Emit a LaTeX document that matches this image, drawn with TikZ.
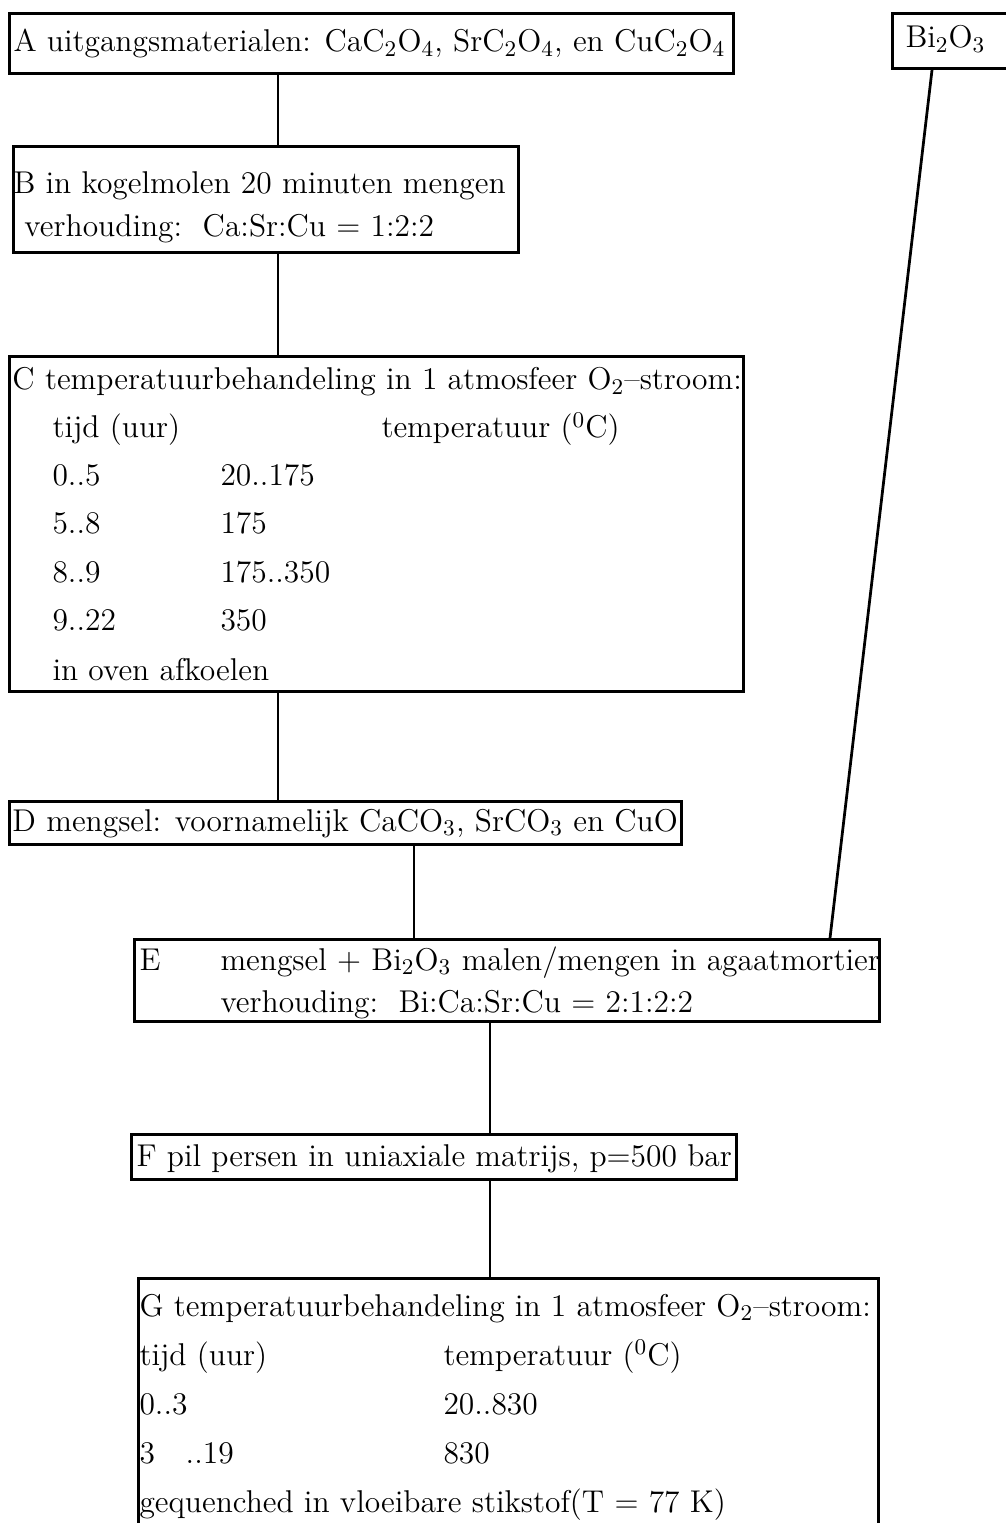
\documentclass[tikz,border=0pt]{standalone}
\usetikzlibrary{calc}
\begin{document}
\begin{tikzpicture}[x=0.4pt,y=-0.4pt,
  box/.style={draw, line width=1.2pt, rectangle, inner sep=0, anchor=north west},
  txt/.style={anchor=base west, inner sep=0, font=\fontsize{12.6}{14}\selectfont},
  conn/.style={line width=1.1pt}]
\useasboundingbox (0,0) rectangle (1005,1523);
% boxes
\node[box, minimum width=724*0.4pt, minimum height=60*0.4pt] (A) at (8,12) {};
\node[box, minimum width=140*0.4pt, minimum height=55*0.4pt] (Bi) at (891,12) {};
\node[box, minimum width=505*0.4pt, minimum height=106*0.4pt] (B) at (12,145) {};
\node[box, minimum width=734*0.4pt, minimum height=335*0.4pt] (C) at (8,355) {};
\node[box, minimum width=672*0.4pt, minimum height=43*0.4pt] (D) at (8,800) {};
\node[box, minimum width=745*0.4pt, minimum height=82*0.4pt] (E) at (133,938) {};
\node[box, minimum width=605*0.4pt, minimum height=45*0.4pt] (F) at (130,1133) {};
\node[box, minimum width=740*0.4pt, minimum height=280*0.4pt] (G) at (137,1277) {};
% texts
\node[txt] (tA) at (13,52) {A uitgangsmaterialen: CaC$_2$O$_4$, SrC$_2$O$_4$, en CuC$_2$O$_4$};
\node[txt] (tBi) at (905,48) {Bi$_2$O$_3$};
\node[txt] (tB1) at (13,194) {B in kogelmolen 20 minuten mengen};
\node[txt] (tB2) at (24,237) {verhouding:\ \ Ca:Sr:Cu = 1:2:2};
\node[txt] (tC1) at (12,390) {C temperatuurbehandeling in 1 atmosfeer O$_2$--stroom:};
\node[txt] (tC2) at (52,438) {tijd (uur)};
\node[txt] (tC3) at (381,438) {temperatuur (${}^0$C)};
\node[txt] (tC4) at (52,486) {0..5};
\node[txt] (tC5) at (220,486) {20..175};
\node[txt] (tC6) at (52,534) {5..8};
\node[txt] (tC7) at (220,534) {175};
\node[txt] (tC8) at (52,582) {8..9};
\node[txt] (tC9) at (220,582) {175..350};
\node[txt] (tC10) at (52,631) {9..22};
\node[txt] (tC11) at (220,631) {350};
\node[txt] (tC12) at (52,680) {in oven afkoelen};
\node[txt] (tD) at (12,831) {D mengsel: voornamelijk CaCO$_3$, SrCO$_3$ en CuO};
\node[txt] (tE1) at (139,970) {E};
\node[txt] (tE2) at (220,970) {mengsel + Bi$_2$O$_3$ malen/mengen in agaatmortier};
\node[txt] (tE3) at (220,1012) {verhouding:\ \ Bi:Ca:Sr:Cu = 2:1:2:2};
\node[txt] (tF) at (136,1166) {F pil persen in uniaxiale matrijs, p=500 bar};
\node[txt] (tG1) at (139,1316) {G temperatuurbehandeling in 1 atmosfeer O$_2$--stroom:};
\node[txt] (tG2) at (139,1365) {tijd (uur)};
\node[txt] (tG3) at (443,1365) {temperatuur (${}^0$C)};
\node[txt] (tG4) at (139,1414) {0..3};
\node[txt] (tG5) at (443,1414) {20..830};
\node[txt] (tG6) at (139,1463) {3\ \ \ ..19};
\node[txt] (tG7) at (443,1463) {830};
\node[txt] (tG8) at (139,1512) {gequenched in vloeibare stikstof(T = 77 K)};
% connectors
\coordinate (ab) at ($(A.south west)+(270,0)$);
\draw[conn] (ab) -- (ab |- B.north);
\coordinate (bc) at ($(B.south west)+(266,0)$);
\draw[conn] (bc) -- (bc |- C.north);
\coordinate (cd) at ($(C.south west)+(270,0)$);
\draw[conn] (cd) -- (cd |- D.north);
\coordinate (de) at ($(D.south west)+(406,0)$);
\draw[conn] (de) -- (de |- E.north);
\coordinate (bie1) at ($(Bi.south west)+(41,0)$);
\coordinate (bie2) at ($(E.north west)+(697,0)$);
\draw[conn] (bie1) -- (bie2);
\coordinate (ef) at ($(E.south west)+(357,0)$);
\draw[conn] (ef) -- (ef |- F.north);
\coordinate (fg) at ($(F.south west)+(360,0)$);
\draw[conn] (fg) -- (fg |- G.north);
\end{tikzpicture}
\end{document}
